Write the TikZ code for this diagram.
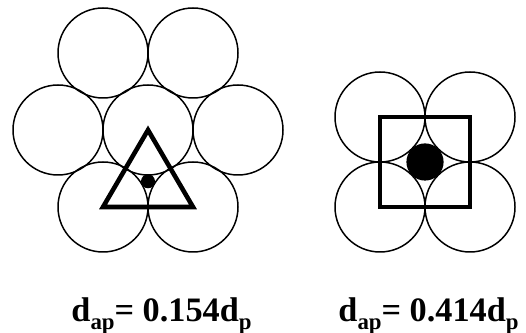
\documentclass[tikz,border=0pt]{standalone}
\usepackage{fontspec}
\setmainfont{Liberation Serif}
\usetikzlibrary{positioning}

\newcommand{\subtxt}[1]{\raisebox{-0.24em}{\fontsize{13}{13}\selectfont #1}}

\begin{document}
\begin{tikzpicture}[
    x=0.02cm, y=-0.02cm,
    every node/.style={font=\fontsize{19.5}{21}\selectfont\bfseries, inner sep=0pt},
    grain/.style={draw=black, line width=0.85pt},
    cellline/.style={draw=black, line width=2.6pt, line join=miter},
    pore/.style={fill=black}
  ]
    \useasboundingbox (0,0) rectangle (526,333);

    % -- hexagonal packing (left) --
    \foreach \cx/\cy in {103/53, 193/53, 58/130, 148/130, 238/130, 103/207, 193/207}
      \draw[grain] (\cx,\cy) circle[radius=45];
    \draw[cellline] (148,130) -- (103,207) -- (193,207) -- cycle;
    \fill[pore] (148,181.3) circle[radius=7];

    % -- square packing (right) --
    \foreach \cx/\cy in {380/117, 470/117, 380/207, 470/207}
      \draw[grain] (\cx,\cy) circle[radius=45];
    \draw[cellline] (380,117) rectangle (470,207);
    \fill[pore] (425,162) circle[radius=18.6];

    % -- labels --
    \node[anchor=base] (hexlabel) at (161.5,321)
      {d\subtxt{ap}= 0.154d\subtxt{p}};
    \node[anchor=base] (sqlabel) at (428.5,321)
      {d\subtxt{ap}= 0.414d\subtxt{p}};
\end{tikzpicture}
\end{document}
